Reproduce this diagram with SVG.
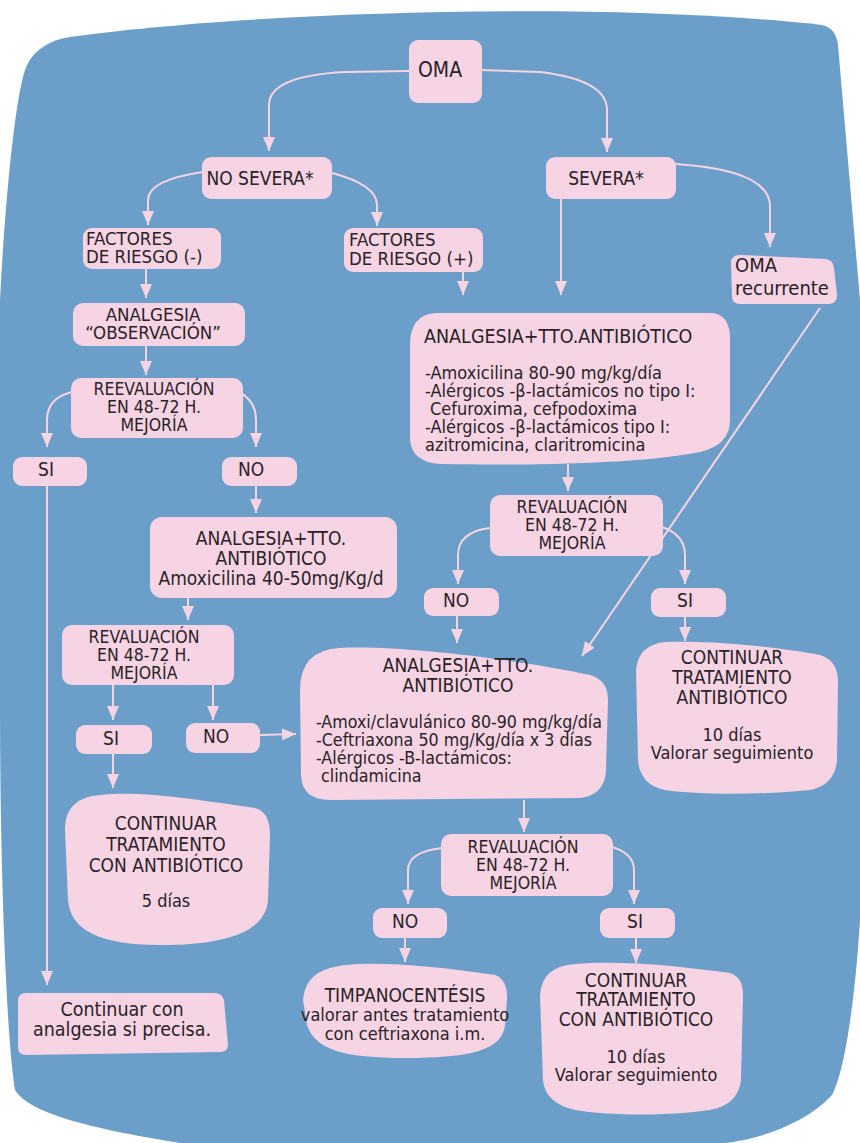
<svg xmlns="http://www.w3.org/2000/svg" width="860" height="1143" viewBox="0 0 860 1143">
<style>
.bg{fill:#6b9fc9}
.n{fill:#f6d4e4}
.c{fill:none;stroke:#f6d4e4;stroke-width:2}
.a{marker-end:url(#ah)}
text{font-family:"DejaVu Sans Condensed","DejaVu Sans",sans-serif;font-stretch:condensed;fill:#2a2226;font-size:19px}
.m{text-anchor:middle}
.s{font-size:18px}
.k{font-size:18.5px}
.r{font-size:17.5px}
</style>
<defs>
<marker id="ah" markerUnits="userSpaceOnUse" markerWidth="14" markerHeight="12" refX="14" refY="6" orient="auto" viewBox="0 0 14 12">
<path d="M0,0 L14,6 L0,12 Z" fill="#f6d4e4"/>
</marker>
</defs>
<path class="bg" d="M70 37 C250 12 600 0 822 25 Q836 28 838 45 L860 300 L860 920 C855 1000 845 1070 832 1095 C800 1130 740 1143 720 1143 L180 1143 C100 1130 30 1115 15 1090 C8 1050 0 900 0 700 L0 300 C5 200 15 100 25 70 C32 50 50 40 70 37 Z"/>
<g id="connectors">
<path class="c a" d="M409 71 L345 72 Q269 76 269 105 L269 151"/>
<path class="c a" d="M482 70 L540 72 Q607 80 607 110 L607 152"/>
<path class="c a" d="M203 172 Q148 180 148 200 L148 225"/>
<path class="c a" d="M332 173 Q377 185 377 205 L377 226"/>
<path class="c a" d="M676 164 Q768 170 770 205 L770 247"/>
<path class="c a" d="M561 199 L561 295"/>
<path class="c a" d="M463 272 L463 295"/>
<path class="c a" d="M146 269 L146 298"/>
<path class="c a" d="M146 346 L146 375"/>
<path class="c a" d="M72 392 Q47 398 47 420 L47 447"/>
<path class="c a" d="M237 391 Q256 400 256 420 L256 447"/>
<path class="c a" d="M47 486 L47 985"/>
<path class="c a" d="M256 486 L256 513"/>
<path class="c a" d="M188 598 L188 620"/>
<path class="c a" d="M113 685 L113 720"/>
<path class="c a" d="M213 685 L213 720"/>
<path class="c a" d="M113 754 L113 788"/>
<path class="c a" d="M260 735 L296 734"/>
<path class="c a" d="M568 464 L568 491"/>
<path class="c a" d="M490 528 Q458 532 458 555 L458 584"/>
<path class="c a" d="M662 527 Q685 535 685 555 L685 584"/>
<path class="c a" d="M820 308 L582 656"/>
<path class="c a" d="M457 615 L457 643"/>
<path class="c a" d="M685 617 L685 641"/>
<path class="c a" d="M524 800 L524 832"/>
<path class="c a" d="M442 848 Q408 852 408 870 L408 904"/>
<path class="c a" d="M608 846 Q634 852 634 870 L634 904"/>
<path class="c a" d="M405 938 L405 962"/>
<path class="c a" d="M636 938 L636 963"/>
</g>
<g id="oma"><rect class="n" x="409" y="40" width="73" height="63" rx="9"/><text class="m" x="440" y="77" style="font-size:21px">OMA</text></g>
<g id="no-severa"><rect class="n" x="202" y="157" width="130" height="42" rx="9"/><text class="m" x="260" y="185">NO SEVERA*</text></g>
<g id="severa"><rect class="n" x="546" y="157" width="130" height="42" rx="9"/><text class="m" x="606" y="185">SEVERA*</text></g>
<g id="factores-neg"><rect class="n" x="83" y="228" width="138" height="41" rx="9"/><text class="k" x="86" y="245">FACTORES</text><text class="k" x="86" y="263">DE RIESGO (-)</text></g>
<g id="factores-pos"><rect class="n" x="344" y="228" width="139" height="44" rx="9"/><text class="k" x="349" y="246">FACTORES</text><text class="k" x="349" y="265">DE RIESGO (+)</text></g>
<g id="oma-recurrente"><path class="n" d="M740 255 L826 259 Q833 260 834 268 L837 295 Q837 304 828 304 L740 304 Q732 304 732 296 L731 263 Q731 255 740 255 Z"/><text x="735" y="272" style="font-size:20px">OMA</text><text x="735" y="295" style="font-size:20px">recurrente</text></g>
<g id="analgesia-obs"><rect class="n" x="73" y="303" width="172" height="43" rx="10"/><text class="m k" x="153" y="321">ANALGESIA</text><text class="m k" x="153" y="339">“OBSERVACIÓN”</text></g>
<g id="reeval-1"><rect class="n" x="71" y="378" width="172" height="60" rx="10"/><text class="m r" x="154" y="395">REEVALUACIÓN</text><text class="m r" x="154" y="413">EN 48-72 H.</text><text class="m r" x="154" y="431">MEJORÍA</text></g>
<g id="si-1"><rect class="n" x="13" y="457" width="74" height="29" rx="9"/><text class="m" x="46" y="476">SI</text></g>
<g id="no-1"><rect class="n" x="222" y="457" width="75" height="29" rx="9"/><text class="m" x="251" y="476">NO</text></g>
<g id="tto-1"><rect class="n" x="150" y="517" width="247" height="81" rx="12"/><text class="m" x="271" y="545">ANALGESIA+TTO.</text><text class="m" x="271" y="565">ANTIBIÓTICO</text><text class="m" x="271" y="585">Amoxicilina 40-50mg/Kg/d</text></g>
<g id="reval-2"><rect class="n" x="62" y="625" width="172" height="60" rx="10"/><text class="m r" x="144" y="643">REVALUACIÓN</text><text class="m r" x="144" y="661">EN 48-72 H.</text><text class="m r" x="144" y="679">MEJORÍA</text></g>
<g id="si-2"><rect class="n" x="76" y="725" width="76" height="29" rx="9"/><text class="m" x="111" y="745">SI</text></g>
<g id="no-2"><rect class="n" x="186" y="723" width="74" height="30" rx="9"/><text class="m" x="216" y="743">NO</text></g>
<g id="continuar-1"><path class="n" d="M100 795 C140 790 200 800 255 808 Q270 812 270 835 L268 900 C266 930 230 945 160 945 C100 945 70 930 68 900 L65 830 C65 805 80 797 100 795 Z"/><text class="m" x="166" y="830">CONTINUAR</text><text class="m" x="166" y="851">TRATAMIENTO</text><text class="m" x="166" y="872">CON ANTIBIÓTICO</text><text class="m s" x="166" y="907">5 días</text></g>
<g id="continuar-analgesia"><path class="n" d="M26 993 L215 993 Q222 993 224 1000 L228 1045 Q228 1052 220 1052 L26 1055 Q18 1055 18 1047 L18 1001 Q18 993 26 993 Z"/><text class="m" x="122" y="1016" style="font-size:19.5px">Continuar con</text><text class="m" x="122" y="1036" style="font-size:19.5px">analgesia si precisa.</text></g>
<g id="tto-severa"><path class="n" d="M435 313 L710 313 Q728 313 730 335 L730 420 Q730 445 700 452 C650 462 560 466 440 464 Q412 462 410 440 L410 345 Q410 315 435 313 Z"/><text x="424" y="343" style="font-size:19.5px">ANALGESIA+TTO.ANTIBIÓTICO</text><text class="s" x="425" y="379">-Amoxicilina 80-90 mg/kg/día</text><text class="s" x="425" y="397">-Alérgicos -β-lactámicos no tipo I:</text><text class="s" x="430" y="415">Cefuroxima, cefpodoxima</text><text class="s" x="425" y="433">-Alérgicos -β-lactámicos tipo I:</text><text class="s" x="425" y="451">azitromicina, claritromicina</text></g>
<g id="reval-3"><rect class="n" x="490" y="495" width="173" height="61" rx="10"/><text class="m r" x="572" y="513">REVALUACIÓN</text><text class="m r" x="572" y="531">EN 48-72 H.</text><text class="m r" x="572" y="549">MEJORÍA</text></g>
<g id="no-3"><rect class="n" x="424" y="588" width="75" height="28" rx="9"/><text class="m" x="456" y="607">NO</text></g>
<g id="si-3"><rect class="n" x="651" y="588" width="75" height="29" rx="9"/><text class="m" x="685" y="607">SI</text></g>
<g id="tto-2"><path class="n" d="M340 648 C400 645 520 660 590 675 Q608 680 608 700 L606 770 Q605 795 580 798 L330 800 Q302 800 301 775 L300 690 Q300 650 340 648 Z"/><text class="m" x="458" y="672">ANALGESIA+TTO.</text><text class="m" x="458" y="692">ANTIBIÓTICO</text><text x="316" y="728" style="font-size:17.7px">-Amoxi/clavulánico 80-90 mg/kg/día</text><text x="316" y="746" style="font-size:17.7px">-Ceftriaxona 50 mg/Kg/día x 3 días</text><text x="316" y="764" style="font-size:17.7px">-Alérgicos -B-lactámicos:</text><text x="321" y="782" style="font-size:17.7px">clindamicina</text></g>
<g id="continuar-2"><path class="n" d="M665 642 C720 640 780 648 820 655 Q837 660 838 680 L837 760 Q835 785 810 790 C760 795 700 795 665 790 Q640 785 638 760 L636 670 Q638 645 665 642 Z"/><text class="m" x="732" y="664">CONTINUAR</text><text class="m" x="732" y="684">TRATAMIENTO</text><text class="m" x="732" y="704">ANTIBIÓTICO</text><text class="m s" x="732" y="741">10 días</text><text class="m s" x="732" y="759">Valorar seguimiento</text></g>
<g id="reval-4"><rect class="n" x="441" y="834" width="172" height="62" rx="10"/><text class="m r" x="523" y="853">REVALUACIÓN</text><text class="m r" x="523" y="871">EN 48-72 H.</text><text class="m r" x="523" y="889">MEJORÍA</text></g>
<g id="no-4"><rect class="n" x="373" y="908" width="74" height="30" rx="9"/><text class="m" x="405" y="928">NO</text></g>
<g id="si-4"><rect class="n" x="600" y="908" width="75" height="30" rx="9"/><text class="m" x="635" y="928">SI</text></g>
<g id="timpanocentesis"><path class="n" d="M330 968 C360 960 420 964 495 975 Q508 980 507 1000 L505 1025 C503 1050 470 1058 405 1058 C345 1058 315 1050 307 1025 L303 1000 Q305 975 330 968 Z"/><text class="m" x="405" y="1002">TIMPANOCENTÉSIS</text><text class="m s" x="405" y="1021">valorar antes tratamiento</text><text class="m s" x="405" y="1040">con ceftriaxona i.m.</text></g>
<g id="continuar-3"><path class="n" d="M575 964 C620 960 680 966 730 973 Q743 977 743 995 L741 1080 Q738 1105 710 1110 C670 1116 610 1116 575 1110 Q545 1103 543 1080 L540 995 Q542 966 575 964 Z"/><text class="m" x="636" y="987">CONTINUAR</text><text class="m" x="636" y="1006">TRATAMIENTO</text><text class="m" x="636" y="1026">CON ANTIBIÓTICO</text><text class="m s" x="636" y="1063">10 días</text><text class="m s" x="636" y="1081">Valorar seguimiento</text></g>
</svg>
